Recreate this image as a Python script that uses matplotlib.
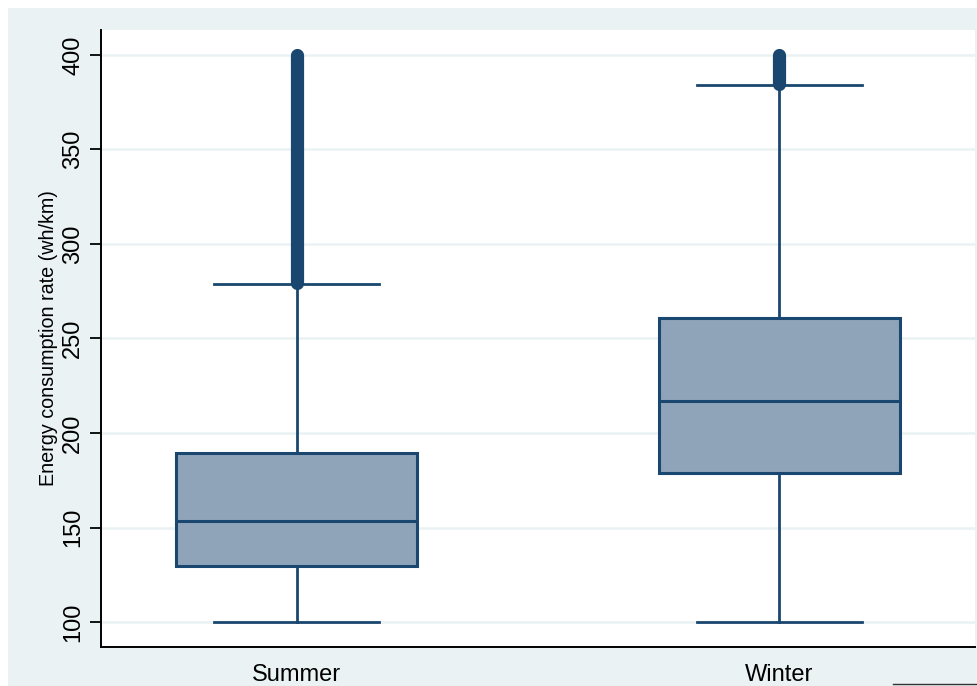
import matplotlib
matplotlib.use("Agg")
import matplotlib.pyplot as plt
from matplotlib.patches import Rectangle
from matplotlib.lines import Line2D

plt.rcParams['font.family'] = ['Liberation Sans', 'DejaVu Sans']

# ------------------------------
# data
# ------------------------------
seasons = ["Summer", "Winter"]
whisker_low = [100, 100]
q1 = [129.7, 178.6]
median = [153.5, 216.8]
q3 = [189.6, 260.8]
whisker_high = [278.8, 384.0]
outlier_low = [279.2, 384.5]
outlier_high = [400, 400]
yticks = [100, 150, 200, 250, 300, 350, 400]

navy = "#1A476F"
box_fill = "#90A4B9"
bg = "#EAF2F3"

fig = plt.figure(figsize=(9.77, 6.86), dpi=100, facecolor="white")
# stata-like light background band
fig.patches.append(Rectangle((8 / 977, 0), 1 - 8 / 977, 1 - 8 / 686,
                             transform=fig.transFigure, facecolor=bg,
                             edgecolor="none", zorder=-10))
fig.lines.append(Line2D([893 / 977, 1], [2 / 686, 2 / 686],
                        transform=fig.transFigure, color="#333333", lw=1))

ax = fig.add_axes([101 / 977, 39 / 686, 874 / 977, 617 / 686])
ax.set_facecolor("white")

positions = list(range(1, len(seasons) + 1))
stats = []
for i, s in enumerate(seasons):
    stats.append({"label": s, "whislo": whisker_low[i], "q1": q1[i], "med": median[i],
                  "q3": q3[i], "whishi": whisker_high[i], "fliers": []})

ax.bxp(stats, positions=positions, widths=0.5, patch_artist=True, showfliers=False,
       boxprops=dict(facecolor=box_fill, edgecolor=navy, linewidth=2.2),
       medianprops=dict(color=navy, linewidth=2.2),
       whiskerprops=dict(color=navy, linewidth=2.0),
       capprops=dict(color=navy, linewidth=2.0),
       capwidths=0.34, zorder=3)

# dense outliers show up as a solid band
for i, p in enumerate(positions):
    ax.plot([p, p], [outlier_low[i], outlier_high[i]], color=navy, lw=9.5,
            solid_capstyle="round", zorder=4)

ax.set_xlim(0.595, 2.405)
ax.set_ylim(86.8, 413.2)
ax.set_yticks(yticks)
ax.set_yticklabels([str(v) for v in yticks], rotation=90, va="center", fontsize=17)
ax.set_xticks(positions)
ax.set_xticklabels(seasons, fontsize=17)
ax.tick_params(axis="x", length=0, pad=12)
ax.tick_params(axis="y", length=8, width=1.3, pad=4)
ax.set_ylabel("Energy consumption rate (wh/km)", fontsize=14.2, labelpad=3)
ax.grid(axis="y", color=bg, lw=1.8, zorder=0)
ax.set_axisbelow(True)

for side in ["top", "right"]:
    ax.spines[side].set_visible(False)
for side in ["left", "bottom"]:
    ax.spines[side].set_linewidth(1.4)

fig.savefig("out.png", dpi=100, facecolor="white")
